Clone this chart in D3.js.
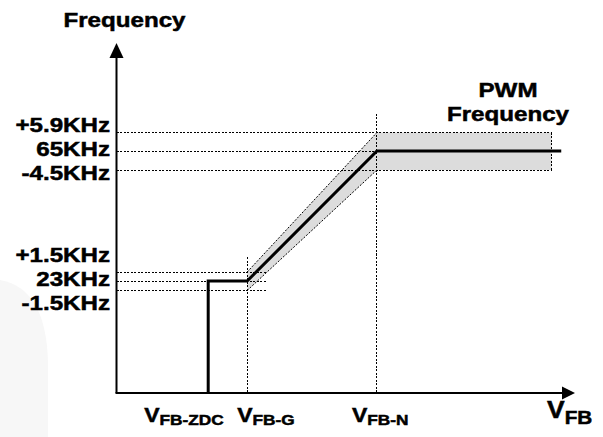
<!DOCTYPE html>
<html>
<head>
  <meta charset="utf-8">
  <title>VFB frequency</title>
  <script src="https://d3js.org/d3.v7.min.js"></script>
  <style>
    body { margin: 0; background: #fff; }
    text { font-family: "Liberation Sans", Arial, sans-serif; font-weight: bold; fill: #000; stroke: #000; stroke-width: 0.5px; }
  </style>
</head>
<body>
  <script>
    // breakpoints on the VFB axis (arbitrary units, schematic)
    const xNames = ['FB-ZDC', 'FB-G', 'FB-N'];
    const xVals = [0.2, 0.285, 0.568];
    const bandEnd = 0.949;
    const lineEnd = 0.97;

    // frequency levels, kHz
    const centers = [23, 65];
    const tolPlus = [1.5, 5.9];
    const tolMinus = [1.5, 4.5];
    const levelLabels = [
      ['+1.5KHz', '23KHz', '-1.5KHz'],
      ['+5.9KHz', '65KHz', '-4.5KHz'],
    ];

    const W = 603, H = 437;
    const sx = 1.15; // labels in the picture are a bit wide

    const svg = d3.select('body').append('svg')
      .attr('width', W)
      .attr('height', H);

    // faint shape on the left edge
    svg.append('path')
      .attr('d', 'M0,280 Q46,288 48,362 L48,437 L0,437 Z')
      .attr('fill', '#f7f7f7');

    const x = d3.scaleLinear().domain([0, 1]).range([116.5, 575]);
    // schematic, not to scale: piecewise scale through the marked levels
    const y = d3.scaleLinear()
      .domain([0, 21.5, 23, 24.5, 60.5, 65, 70.9, 100])
      .range([393, 290.5, 281, 272, 170, 151, 132.5, 43]);

    const dash = (sel) => sel
      .attr('stroke', '#000')
      .attr('stroke-width', 1)
      .attr('stroke-dasharray', '2,1.5')
      .attr('shape-rendering', 'crispEdges')
      .attr('fill', 'none');

    const [lo, hi] = [0, 1];
    const gX = x(xVals[1]), nX = x(xVals[2]), zX = x(xVals[0]);

    // gray tolerance band
    svg.append('path')
      .attr('d', d3.line()([
        [gX, y(centers[lo] + tolPlus[lo])],
        [nX, y(centers[hi] + tolPlus[hi])],
        [x(bandEnd), y(centers[hi] + tolPlus[hi])],
        [x(bandEnd), y(centers[hi] - tolMinus[hi])],
        [nX, y(centers[hi] - tolMinus[hi])],
        [gX, y(centers[lo] - tolMinus[lo])],
      ]) + 'Z')
      .attr('fill', '#dcdcdc');

    // dotted guides, upper levels
    [centers[hi] + tolPlus[hi], centers[hi] - tolMinus[hi]].forEach(v => {
      svg.append('line').call(dash)
        .attr('x1', x(0)).attr('x2', x(bandEnd))
        .attr('y1', y(v)).attr('y2', y(v));
    });
    svg.append('line').call(dash)
      .attr('x1', x(0)).attr('x2', nX)
      .attr('y1', y(centers[hi])).attr('y2', y(centers[hi]));
    svg.append('line').call(dash)
      .attr('x1', x(bandEnd)).attr('x2', x(bandEnd))
      .attr('y1', y(centers[hi] + tolPlus[hi])).attr('y2', y(centers[hi] - tolMinus[hi]));

    // dotted guides, lower levels
    [centers[lo] + tolPlus[lo], centers[lo], centers[lo] - tolMinus[lo]].forEach(v => {
      svg.append('line').call(dash)
        .attr('x1', x(0)).attr('x2', gX + 19)
        .attr('y1', y(v)).attr('y2', y(v));
    });

    // diagonal band edges
    svg.append('line').call(dash)
      .attr('shape-rendering', null)
      .attr('x1', gX).attr('y1', y(centers[lo] + tolPlus[lo]))
      .attr('x2', nX).attr('y2', y(centers[hi] + tolPlus[hi]));
    svg.append('line').call(dash)
      .attr('shape-rendering', null)
      .attr('x1', gX).attr('y1', y(centers[lo] - tolMinus[lo]))
      .attr('x2', nX).attr('y2', y(centers[hi] - tolMinus[hi]));

    // vertical guides
    svg.append('line').call(dash)
      .attr('x1', gX).attr('x2', gX)
      .attr('y1', y(centers[lo] + tolPlus[lo]) - 15).attr('y2', y(0));
    svg.append('line').call(dash)
      .attr('x1', nX).attr('x2', nX)
      .attr('y1', y(centers[hi] + tolPlus[hi]) - 19).attr('y2', y(0));

    // frequency curve
    svg.append('path')
      .attr('d', d3.line()([
        [zX, y(0)],
        [zX, y(centers[lo])],
        [gX, y(centers[lo])],
        [nX, y(centers[hi])],
        [x(lineEnd), y(centers[hi])],
      ]))
      .attr('fill', 'none')
      .attr('stroke', '#000')
      .attr('stroke-width', 3);

    // axes with arrows
    svg.append('line')
      .attr('x1', x(0)).attr('x2', x(0))
      .attr('y1', y(0)).attr('y2', y(100) + 12)
      .attr('stroke', '#000').attr('stroke-width', 2);
    svg.append('path')
      .attr('d', `M${x(0)},${y(100)} L${x(0) - 7},${y(100) + 15} L${x(0) + 7},${y(100) + 15} Z`);
    svg.append('line')
      .attr('x1', x(0) - 1).attr('x2', x(1) - 10)
      .attr('y1', y(0)).attr('y2', y(0))
      .attr('stroke', '#000').attr('stroke-width', 2);
    svg.append('path')
      .attr('d', `M${x(1)},${y(0)} L${x(1) - 13},${y(0) - 6.5} L${x(1) - 13},${y(0) + 6.5} Z`);

    const label = (px, py, txt, size, anchor) => svg.append('text')
      .attr('transform', `translate(${px},${py}) scale(${sx},1)`)
      .attr('text-anchor', anchor)
      .style('font-size', size + 'px')
      .text(txt);

    // axis titles
    label(x(0) + 8, 27, 'Frequency', 21, 'middle');
    label(508, 97, 'PWM', 21, 'middle');
    label(508, 121, 'Frequency', 21, 'middle');

    // level labels
    centers.forEach((c, i) => {
      levelLabels[i].forEach((t, k) => {
        label(110, y(c) + 5 + (k - 1) * 24, t, 21, 'end');
      });
    });

    // VFB labels
    const xLabelShift = [-64, -10, -25];
    xNames.forEach((n, i) => {
      const t = svg.append('text')
        .attr('transform', `translate(${x(xVals[i]) + xLabelShift[i]},421.5) scale(${sx},1)`);
      t.append('tspan').style('font-size', '20px').text('V');
      t.append('tspan').style('font-size', '15px').attr('dy', 3.5).text(n);
    });
    const t = svg.append('text')
      .attr('transform', `translate(547,418) scale(${sx},1)`);
    t.append('tspan').style('font-size', '23px').text('V');
    t.append('tspan').style('font-size', '18px').attr('dy', 6).text('FB');
  </script>
</body>
</html>
